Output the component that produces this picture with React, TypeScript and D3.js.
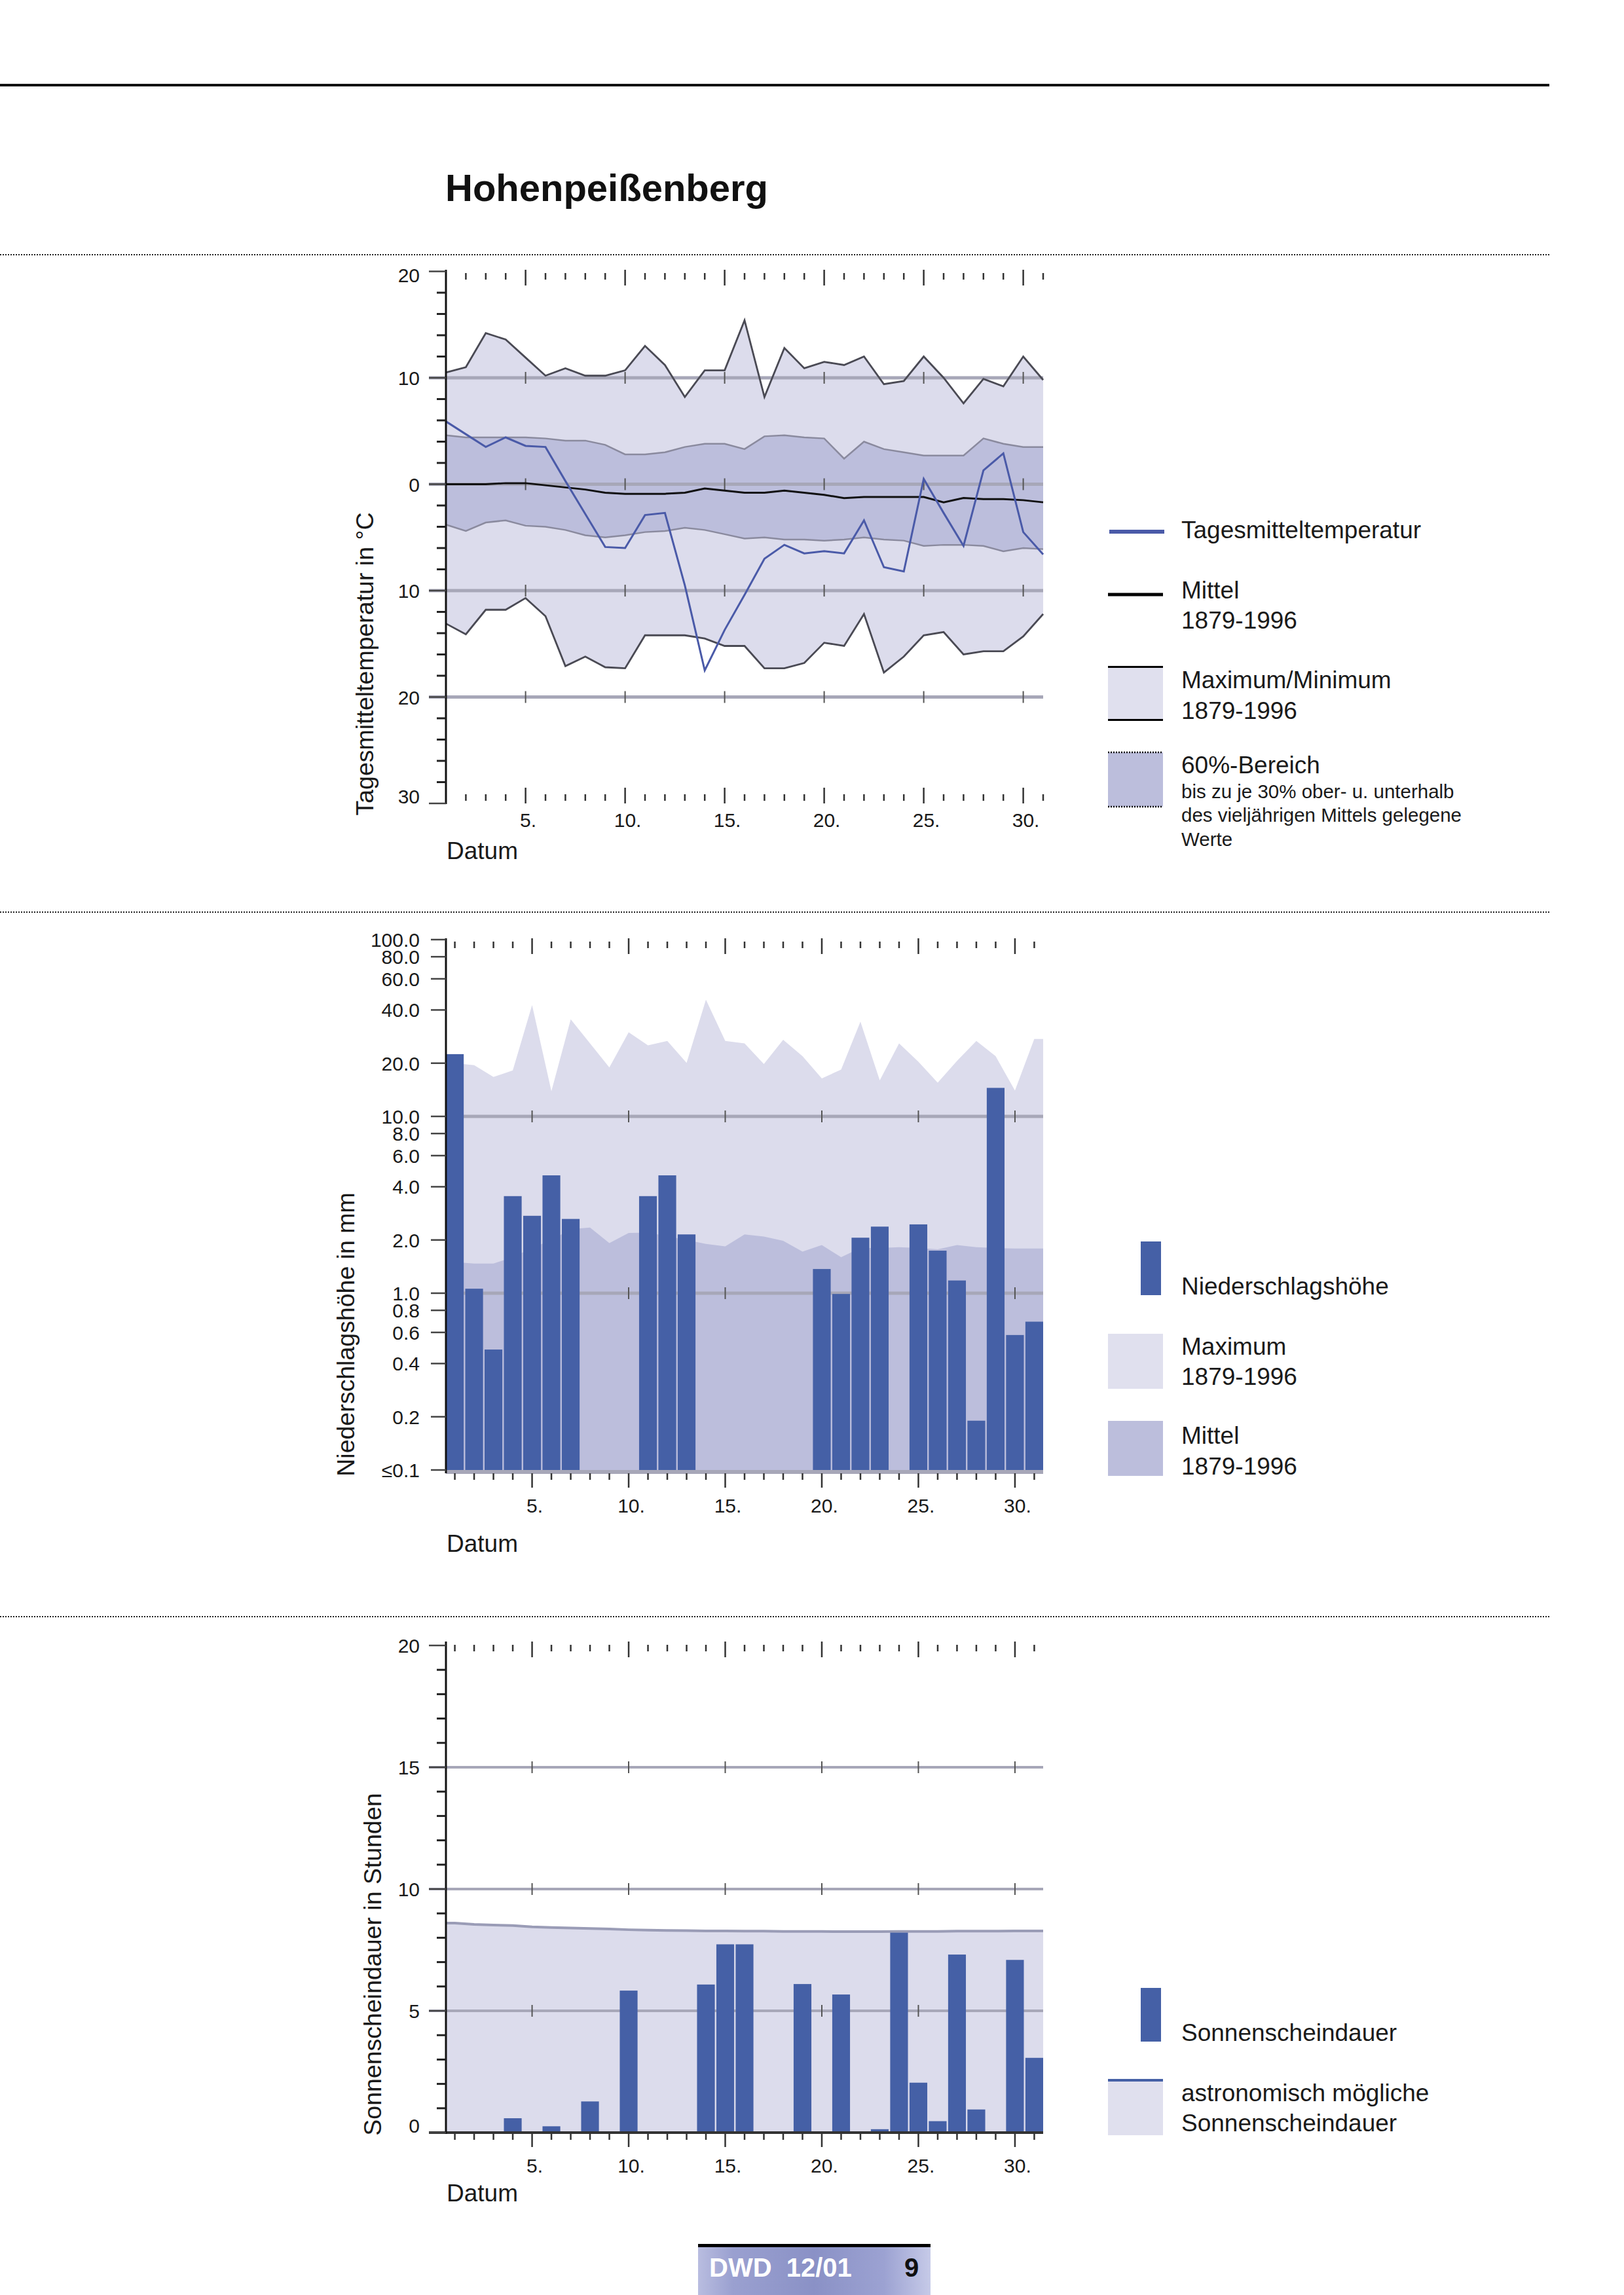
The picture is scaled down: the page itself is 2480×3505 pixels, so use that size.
import React from 'react';
import * as d3 from 'd3';

const FONT = "'Liberation Sans', Arial, Helvetica, sans-serif";

// ---------- data ----------
const days = [1, 2, 3, 4, 5, 6, 7, 8, 9, 10, 11, 12, 13, 14, 15, 16, 17, 18, 19, 20, 21, 22, 23, 24, 25, 26, 27, 28, 29, 30, 31];
const dayLabels = [5, 10, 15, 20, 25, 30];

// Temperatur (°C)
const tempDaily = [5.9, 4.7, 3.5, 4.4, 3.6, 3.5, 0.3, -2.8, -5.9, -6.0, -2.9, -2.7, -9.5, -17.5, -13.7, -10.4, -7.0, -5.7, -6.5, -6.3, -6.5, -3.4, -7.8, -8.2, 0.5, -2.7, -5.8, 1.3, 2.9, -4.5, -6.6];
const tempMean = [0.0, 0.0, 0.0, 0.1, 0.1, -0.1, -0.3, -0.5, -0.8, -0.9, -0.9, -0.9, -0.8, -0.4, -0.6, -0.8, -0.8, -0.6, -0.8, -1.0, -1.3, -1.2, -1.2, -1.2, -1.2, -1.7, -1.3, -1.4, -1.4, -1.5, -1.7];
const tempMax = [10.5, 11.0, 14.2, 13.6, 11.9, 10.2, 10.9, 10.2, 10.2, 10.7, 13.0, 11.2, 8.2, 10.7, 10.7, 15.4, 8.2, 12.8, 10.9, 11.5, 11.2, 12.0, 9.4, 9.7, 12.0, 10.0, 7.6, 9.9, 9.2, 12.0, 9.8];
const tempMin = [-13.1, -14.1, -11.8, -11.8, -10.7, -12.4, -17.1, -16.2, -17.2, -17.3, -14.2, -14.2, -14.2, -14.5, -15.2, -15.2, -17.3, -17.3, -16.8, -14.9, -15.2, -12.2, -17.7, -16.2, -14.2, -13.9, -16.0, -15.7, -15.7, -14.3, -12.2];
const temp60Upper = [4.6, 4.4, 4.4, 4.4, 4.4, 4.3, 4.1, 4.1, 3.7, 2.8, 2.8, 3.0, 3.5, 3.8, 3.8, 3.3, 4.5, 4.6, 4.4, 4.3, 2.4, 4.0, 3.3, 3.0, 2.7, 2.7, 2.7, 4.3, 3.8, 3.5, 3.5];
const temp60Lower = [-3.8, -4.4, -3.6, -3.4, -3.9, -4.0, -4.3, -4.8, -5.0, -4.8, -4.5, -4.4, -4.1, -4.3, -4.7, -5.1, -5.0, -5.2, -5.2, -5.3, -5.2, -5.0, -5.2, -5.3, -5.8, -5.7, -5.7, -5.8, -6.3, -6.0, -6.1];
const tempTicks = [20, 10, 0, -10, -20, -30];
const tempGrid = [10, 0, -10, -20];

// Niederschlag (mm)
const precip = [22.5, 1.06, 0.48, 3.54, 2.74, 4.64, 2.63, 0, 0, 0, 3.54, 4.64, 2.15, 0, 0, 0, 0, 0, 0, 1.37, 0.99, 2.06, 2.38, 0, 2.45, 1.74, 1.18, 0.19, 14.5, 0.58, 0.69];
const precipMax = [20, 19.5, 16.7, 18.2, 42.6, 13.9, 35.4, 25.9, 18.9, 29.9, 25.2, 26.7, 20.1, 45.7, 26.7, 25.9, 19.8, 27.1, 21.9, 16.4, 18.4, 34.4, 16.0, 25.9, 20.4, 15.5, 20.6, 26.7, 21.9, 14.0, 27.4];
const precipMean = [1.5, 1.47, 1.47, 1.6, 1.8, 2.0, 2.3, 2.35, 1.92, 2.19, 2.2, 2.1, 2.0, 1.9, 1.84, 2.15, 2.09, 1.98, 1.72, 1.87, 1.6, 1.8, 1.8, 1.82, 1.8, 1.77, 1.87, 1.82, 1.8, 1.79, 1.79];
const precipTicks = [100, 80, 60, 40, 20, 10, 8, 6, 4, 2, 1, 0.8, 0.6, 0.4, 0.2, 0.1];
const precipTickLabels = ['100.0', '80.0', '60.0', '40.0', '20.0', '10.0', '8.0', '6.0', '4.0', '2.0', '1.0', '0.8', '0.6', '0.4', '0.2', '≤0.1'];
const precipGrid = [10, 1];

// Sonnenschein (h)
const sun = [0, 0, 0, 0.59, 0, 0.26, 0, 1.28, 0, 5.83, 0, 0, 0, 6.08, 7.73, 7.73, 0, 0, 6.1, 0, 5.67, 0, 0.14, 8.21, 2.05, 0.47, 7.31, 0.95, 0, 7.09, 3.07];
const sunAstro = [8.6, 8.55, 8.52, 8.5, 8.45, 8.42, 8.4, 8.38, 8.36, 8.33, 8.31, 8.3, 8.29, 8.28, 8.28, 8.27, 8.27, 8.26, 8.26, 8.26, 8.25, 8.25, 8.25, 8.26, 8.26, 8.26, 8.27, 8.27, 8.27, 8.28, 8.28];
const sunTicks = [20, 15, 10, 5, 0];
const sunGrid = [15, 10, 5];

// ---------- colours ----------
const C_LIGHT = '#dcdcec';
const C_MID = '#bcbedc';
const C_GRID = '#a7a7b8';
const C_BAR = '#4560a6';
const C_BLUE = '#4a5aa8';
const C_TXT = '#1a1a1a';
const LEG = 37;
const LEG_S = 29.5;

export default function App() {
  // ===== Temperature scales =====
  const xT = d3.scaleLinear().domain([1, 31]).range([681, 1593]);
  const yT = d3.scaleLinear().domain([-30, 20]).range([1227, 414.5]);
  const idx = days.map((_, i) => i);
  const areaMM = d3.area<number>().x(i => xT(days[i])).y0(i => yT(tempMin[i])).y1(i => yT(tempMax[i]))(idx) || '';
  const area60 = d3.area<number>().x(i => xT(days[i])).y0(i => yT(temp60Lower[i])).y1(i => yT(temp60Upper[i]))(idx) || '';
  const lineOf = (arr: number[]) => d3.line<number>().x(i => xT(days[i])).y(i => yT(arr[i]))(idx) || '';
  const tR = xT.range()[1];

  // ===== Band scale for precip & sun =====
  const xB = d3.scaleBand<number>().domain(days).range([681, 1593]).paddingInner(0.08).paddingOuter(0);
  const bw = xB.bandwidth();
  const cx = (d: number) => (xB(d) as number) + bw / 2;
  const [bL, bR] = xB.range();

  // ===== Precip =====
  const yP = d3.scaleLog().domain([0.1, 100]).range([2245, 1435]);
  type P = { x: number; v: number };
  const edgePts = (arr: number[]): P[] => [
    { x: bL, v: arr[0] },
    ...days.map((d, i) => ({ x: cx(d), v: arr[i] })),
    { x: bR, v: arr[arr.length - 1] },
  ];
  const areaP = (arr: number[]) => d3.area<P>().x(p => p.x).y0(yP(0.1)).y1(p => yP(p.v))(edgePts(arr)) || '';

  // ===== Sun =====
  const yS = d3.scaleLinear().domain([0, 20]).range([3257, 2513]);
  const sunPts = edgePts(sunAstro);
  const sunArea = d3.area<P>().x(p => p.x).y0(yS(0)).y1(p => yS(p.v))(sunPts) || '';
  const sunLine = d3.line<P>().x(p => p.x).y(p => yS(p.v))(sunPts) || '';

  const axisX = 681;

  const dayTickLabels = (xf: (d: number) => number, baseY: number) =>
    dayLabels.map(d => (
      <text key={'dl' + d} x={xf(d) + 4} y={baseY} fontSize={30} textAnchor="middle" fill={C_TXT}>{d + '.'}</text>
    ));

  const crossTicks = (xf: (d: number) => number, y: number, k: string) =>
    dayLabels.map(d => (
      <line key={k + d} x1={xf(d)} x2={xf(d)} y1={y - 9} y2={y + 9} stroke="#555" strokeWidth={2} />
    ));

  const topTicks = (xs: number[], isMajor: (d: number) => boolean, dset: number[], y0: number, k: string) =>
    dset.map((d, i) => {
      const maj = isMajor(d);
      return <line key={k + d} x1={xs[i]} x2={xs[i]} y1={maj ? y0 : y0 + 5} y2={maj ? y0 + 24 : y0 + 15} stroke="#333" strokeWidth={2.5} />;
    });

  const tDays = days.filter(d => d > 1);

  const legendText = (x: number, y: number, s: string, size = LEG, key?: string) => (
    <text key={key || s + y} x={x} y={y} fontSize={size} fill={C_TXT}>{s}</text>
  );

  return (
    <svg width={2480} height={3505} viewBox="0 0 2480 3505" style={{ position: 'absolute', left: 0, top: 0, background: '#fff' }} fontFamily={FONT}>
      <defs>
        <linearGradient id="ftr" x1="0" x2="1" y1="0" y2="0">
          <stop offset="0%" stopColor="#b9bde0" />
          <stop offset="15%" stopColor="#9aa0d0" />
          <stop offset="50%" stopColor="#8a91c6" />
          <stop offset="80%" stopColor="#9ca2d2" />
          <stop offset="100%" stopColor="#c6cae8" />
        </linearGradient>
      </defs>
      <rect x={0} y={0} width={2480} height={3505} fill="#fff" />

      {/* header */}
      <line x1={0} x2={2366} y1={130} y2={130} stroke="#111" strokeWidth={4} />
      <text x={680} y={307} fontSize={58} fontWeight="bold" fill="#111">Hohenpeißenberg</text>
      {[389, 1393, 2469].map(y => (
        <line key={'sep' + y} x1={0} x2={2366} y1={y} y2={y} stroke="#222" strokeWidth={2} strokeDasharray="2,2" />
      ))}

      {/* ================= Temperature chart ================= */}
      <g>
        <path d={areaMM} fill={C_LIGHT} />
        <path d={area60} fill={C_MID} />
        {tempGrid.map(v => (
          <line key={'tg' + v} x1={655} x2={tR} y1={yT(v)} y2={yT(v)} stroke={C_GRID} strokeWidth={5} />
        ))}
        {tempGrid.map(v => crossTicks(d => xT(d), yT(v), 'tc' + v))}
        <path d={lineOf(tempMax)} fill="none" stroke="#4a4a54" strokeWidth={2.8} />
        <path d={lineOf(tempMin)} fill="none" stroke="#4a4a54" strokeWidth={2.8} />
        <path d={lineOf(temp60Upper)} fill="none" stroke="#8a8a9e" strokeWidth={2.5} />
        <path d={lineOf(temp60Lower)} fill="none" stroke="#8a8a9e" strokeWidth={2.5} />
        <path d={lineOf(tempMean)} fill="none" stroke="#111" strokeWidth={3} />
        <path d={lineOf(tempDaily)} fill="none" stroke={C_BLUE} strokeWidth={3} />

        {/* axis */}
        <line x1={axisX} x2={axisX} y1={412} y2={1228} stroke="#111" strokeWidth={3} />
        {yT.ticks(25).filter(v => v % 10 !== 0).map(v => (
          <line key={'tm' + v} x1={667} x2={axisX} y1={yT(v)} y2={yT(v)} stroke="#222" strokeWidth={3} />
        ))}
        {tempTicks.map(v => (
          <line key={'tM' + v} x1={655} x2={axisX} y1={yT(v)} y2={yT(v)} stroke="#444" strokeWidth={2.5} />
        ))}
        {tempTicks.map((v, i) => (
          <text key={'tl' + v} x={641} y={i === 0 ? yT(v) + 16 : i === tempTicks.length - 1 ? yT(v) : yT(v) + 11} fontSize={30} textAnchor="end" fill={C_TXT}>{String(Math.abs(v))}</text>
        ))}
        {topTicks(tDays.map(d => xT(d)), d => d % 5 === 0, tDays, 412, 'tt')}
        {tDays.map(d => {
          const maj = d % 5 === 0;
          return <line key={'tb' + d} x1={xT(d)} x2={xT(d)} y1={maj ? 1203 : 1213} y2={maj ? 1227 : 1223} stroke="#333" strokeWidth={2.5} />;
        })}
        {dayTickLabels(d => xT(d), 1263)}
        <text x={682} y={1312} fontSize={LEG} fill={C_TXT}>Datum</text>
        <text transform="translate(570,1014) rotate(-90)" fontSize={37.5} textAnchor="middle" fill={C_TXT}>Tagesmitteltemperatur in °C</text>
      </g>

      {/* temperature legend */}
      <g>
        <line x1={1694} x2={1778} y1={812} y2={812} stroke={C_BLUE} strokeWidth={6} />
        {legendText(1804, 822, 'Tagesmitteltemperatur')}
        <line x1={1692} x2={1776} y1={908} y2={908} stroke="#000" strokeWidth={5} />
        {legendText(1804, 914, 'Mittel')}
        {legendText(1804, 960, '1879-1996')}
        <rect x={1692} y={1017} width={84} height={84} fill="#e0e0ee" />
        <line x1={1692} x2={1776} y1={1018.5} y2={1018.5} stroke="#000" strokeWidth={3} />
        <line x1={1692} x2={1776} y1={1099.5} y2={1099.5} stroke="#000" strokeWidth={3} />
        {legendText(1804, 1051, 'Maximum/Minimum')}
        {legendText(1804, 1098, '1879-1996', LEG, 'mm2')}
        <rect x={1692} y={1149} width={84} height={83} fill={C_MID} />
        <line x1={1692} x2={1776} y1={1149} y2={1149} stroke="#000" strokeWidth={2.5} strokeDasharray="2,2" />
        <line x1={1692} x2={1776} y1={1232} y2={1232} stroke="#000" strokeWidth={2.5} strokeDasharray="2,2" />
        {legendText(1804, 1181, '60%-Bereich')}
        {legendText(1804, 1219, 'bis zu je 30% ober- u. unterhalb', LEG_S)}
        {legendText(1804, 1255, 'des vieljährigen Mittels gelegene', LEG_S)}
        {legendText(1804, 1292, 'Werte', LEG_S)}
      </g>

      {/* ================= Precipitation chart ================= */}
      <g>
        <path d={areaP(precipMax)} fill={C_LIGHT} />
        <path d={areaP(precipMean)} fill={C_MID} />
        {precipGrid.map(v => (
          <line key={'pg' + v} x1={bL} x2={bR} y1={yP(v)} y2={yP(v)} stroke={C_GRID} strokeWidth={5} />
        ))}
        {precipGrid.map(v => crossTicks(cx, yP(v), 'pc' + v))}
        {days.map((d, i) => precip[i] > 0.1 ? (
          <rect key={'pb' + d} x={xB(d)} y={yP(precip[i])} width={bw} height={yP(0.1) - yP(precip[i])} fill={C_BAR} />
        ) : null)}
        <line x1={bL} x2={bR} y1={2248} y2={2248} stroke={C_GRID} strokeWidth={6} />

        <line x1={axisX} x2={axisX} y1={1433} y2={2250} stroke="#111" strokeWidth={3} />
        {precipTicks.map(v => (
          <line key={'pt' + v} x1={658} x2={axisX} y1={yP(v)} y2={yP(v)} stroke="#444" strokeWidth={2.5} />
        ))}
        {precipTicks.map((v, i) => (
          <text key={'pl' + v} x={641} y={yP(v) + 11} fontSize={30} textAnchor="end" fill={C_TXT}>{precipTickLabels[i]}</text>
        ))}
        {topTicks(days.map(cx), d => d % 5 === 0, days, 1433, 'pt')}
        {days.map(d => {
          const maj = d % 5 === 0;
          return <line key={'pbt' + d} x1={cx(d)} x2={cx(d)} y1={2250} y2={maj ? 2272 : 2260} stroke="#333" strokeWidth={2.5} />;
        })}
        {dayTickLabels(cx, 2310)}
        <text x={682} y={2370} fontSize={LEG} fill={C_TXT}>Datum</text>
        <text transform="translate(541,2038) rotate(-90)" fontSize={37.5} textAnchor="middle" fill={C_TXT}>Niederschlagshöhe in mm</text>
      </g>

      {/* precipitation legend */}
      <g>
        <rect x={1742} y={1896} width={31} height={82} fill={C_BAR} />
        {legendText(1804, 1977, 'Niederschlagshöhe')}
        <rect x={1692} y={2037} width={84} height={84} fill="#e0e0ee" />
        {legendText(1804, 2069, 'Maximum')}
        {legendText(1804, 2115, '1879-1996', LEG, 'pm1')}
        <rect x={1692} y={2170} width={84} height={84} fill={C_MID} />
        {legendText(1804, 2205, 'Mittel', LEG, 'pm2')}
        {legendText(1804, 2252, '1879-1996', LEG, 'pm3')}
      </g>

      {/* ================= Sunshine chart ================= */}
      <g>
        <path d={sunArea} fill={C_LIGHT} />
        <path d={sunLine} fill="none" stroke="#9a9cb6" strokeWidth={4} />
        {sunGrid.map(v => (
          <line key={'sg' + v} x1={655} x2={bR} y1={yS(v)} y2={yS(v)} stroke={C_GRID} strokeWidth={4} />
        ))}
        {sunGrid.map(v => crossTicks(cx, yS(v), 'sc' + v))}
        {days.map((d, i) => sun[i] > 0 ? (
          <rect key={'sb' + d} x={xB(d)} y={yS(sun[i])} width={bw} height={yS(0) - yS(sun[i])} fill={C_BAR} />
        ) : null)}
        <line x1={655} x2={bR} y1={yS(0)} y2={yS(0)} stroke="#333" strokeWidth={4} />
        <line x1={axisX} x2={axisX} y1={2507} y2={3259} stroke="#111" strokeWidth={3} />
        {yS.ticks(20).filter(v => v % 5 !== 0).map(v => (
          <line key={'sm' + v} x1={667} x2={axisX} y1={yS(v)} y2={yS(v)} stroke="#222" strokeWidth={3} />
        ))}
        {sunTicks.map(v => (
          <line key={'sM' + v} x1={655} x2={axisX} y1={yS(v)} y2={yS(v)} stroke="#444" strokeWidth={2.5} />
        ))}
        {sunTicks.map(v => (
          <text key={'sl' + v} x={641} y={v === 0 ? yS(v) : yS(v) + 11} fontSize={30} textAnchor="end" fill={C_TXT}>{String(v)}</text>
        ))}
        {topTicks(days.map(cx), d => d % 5 === 0, days, 2507, 'st')}
        {days.map(d => {
          const maj = d % 5 === 0;
          return <line key={'sbt' + d} x1={cx(d)} x2={cx(d)} y1={3257} y2={maj ? 3279 : 3268} stroke="#333" strokeWidth={2.5} />;
        })}
        {dayTickLabels(cx, 3318)}
        <text x={682} y={3362} fontSize={LEG} fill={C_TXT}>Datum</text>
        <text transform="translate(582,3000) rotate(-90)" fontSize={37.5} textAnchor="middle" fill={C_TXT}>Sonnenscheindauer in Stunden</text>
      </g>

      {/* sunshine legend */}
      <g>
        <rect x={1742} y={3036} width={31} height={82} fill={C_BAR} />
        {legendText(1804, 3117, 'Sonnenscheindauer', LEG, 'sl1')}
        <rect x={1692} y={3179} width={84} height={82} fill="#e0e0ee" />
        <line x1={1692} x2={1776} y1={3177} y2={3177} stroke={C_BAR} strokeWidth={4} />
        {legendText(1804, 3209, 'astronomisch mögliche', LEG, 'sl2')}
        {legendText(1804, 3255, 'Sonnenscheindauer', LEG, 'sl3')}
      </g>

      {/* footer */}
      <rect x={1066} y={3432} width={355} height={73} fill="url(#ftr)" />
      <line x1={1066} x2={1421} y1={3429.5} y2={3429.5} stroke="#000" strokeWidth={5} />
      <text x={1083} y={3477} fontSize={40} fontWeight="bold" fill="#fff" style={{ whiteSpace: 'pre' }}>{'DWD  12/01'}</text>
      <text x={1381} y={3477} fontSize={40} fontWeight="bold" fill="#111">9</text>
    </svg>
  );
}
